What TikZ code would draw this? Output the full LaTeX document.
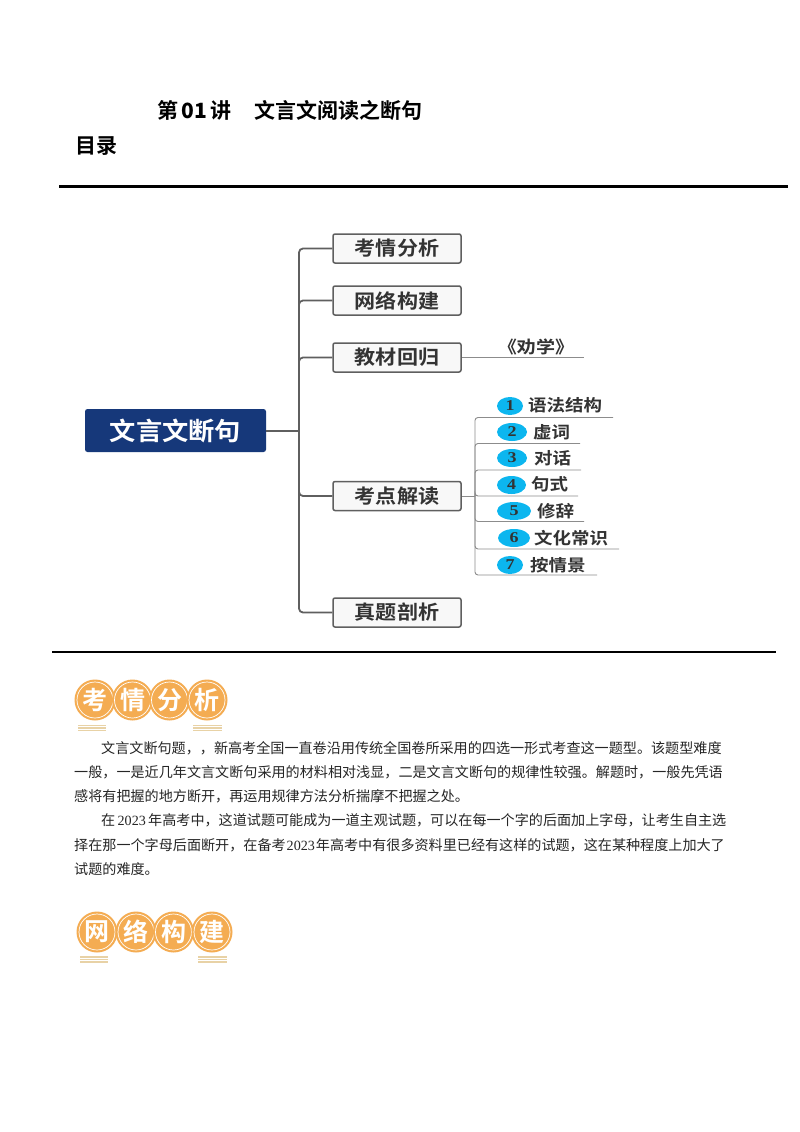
\documentclass[tikz,border=0pt]{standalone}
\usepackage{fontspec}
\setmainfont{Liberation Serif}
\newfontfamily\cjk{Noto Sans CJK SC}
\newfontfamily\cjkb{Noto Sans CJK SC Bold}
\newfontfamily\cjkbr[FakeStretch=1.05]{Noto Sans CJK SC Bold}
\newfontfamily\cjkbb[FakeStretch=1.08]{Noto Sans CJK SC Bold}
\newfontfamily\cjkbs[FakeStretch=1.12]{Noto Sans CJK SC Bold}
\newfontfamily\digitf[FakeStretch=1.2]{Liberation Serif Bold}
\newcommand{\fs}[1]{\fontsize{#1}{#1}\selectfont}
\definecolor{rootblue}{HTML}{16387A}
\definecolor{boxline}{HTML}{5F5F5F}
\definecolor{boxfill}{HTML}{F8F8F8}
\definecolor{txt}{HTML}{333333}
\definecolor{cyanball}{HTML}{0CB6EF}
\definecolor{orangeb}{HTML}{F4AC52}
\definecolor{tan}{HTML}{E8D2A6}
\tikzset{
  rootbox/.style={fill=rootblue,rounded corners=2.5,minimum width=181,minimum height=43,inner sep=0,text=white,font=\cjkbr\fs{25}},
  branchbox/.style={draw=boxline,line width=1.5,fill=boxfill,rounded corners=2,minimum width=128,minimum height=29,inner sep=0,text=txt,font=\cjkbb\fs{19.5}},
  conn/.style={draw=boxline,line width=1.8,rounded corners=4},
  thin conn/.style={draw=gray!90,line width=.9,rounded corners=3},
  ball/.style={ellipse,fill=cyanball,inner sep=0,font=\digitf\fs{15},text=txt},
  sublabel/.style={anchor=west,inner sep=0,text=txt,font=\cjkbs\fs{16.5}},
  badge/.style={circle,fill=orangeb,minimum size=41,inner sep=0,text=white,font=\cjkb\fs{25}},
  ring/.style={draw=white,line width=.7},
  bar/.style={draw=tan,line width=1.3},
  bodyline/.style={anchor=west,inner sep=0,text=black!85,font=\cjk\fs{14.1}},
  heading/.style={anchor=west,inner sep=0,text=black,font=\cjkb\fs{21}},
  rule/.style={draw=black,line width=2.2},
}
\usetikzlibrary{shapes.geometric}
\begin{document}
\begin{tikzpicture}[x=1pt,y=-1pt]
\useasboundingbox[fill=white] (0,0) rectangle (800,1132);
% headings
\node[heading] (title) at (157,110) {第\,{\bfseries 01}\,讲\hspace{23pt}文言文阅读之断句};
\node[heading] (toc) at (75,146) {目录};
\coordinate (r1a) at (59,186.5); \coordinate (r1b) at (788,186.5);
\draw[rule] (r1a) -- (r1b);
\coordinate (r2a) at (52,652); \coordinate (r2b) at (776,652);
\draw[rule] (r2a) -- (r2b);
% map
\node[rootbox] (root) at (175.5,430.5) {文言文断句};
\node[branchbox] (b1) at (397,248.5) {考情分析};
\node[branchbox] (b2) at (397,300.5) {网络构建};
\node[branchbox] (b3) at (397,357.5) {教材回归};
\node[branchbox] (b4) at (397,496) {考点解读};
\node[branchbox] (b5) at (397,612.5) {真题剖析};
\coordinate (trunk) at (299,431);
\foreach \b in {b1,b2,b3,b4,b5} \draw[conn] (trunk) |- (\b.west);
\draw[draw=boxline,line width=2.2] (root.east |- trunk) -- (trunk);
% textbook branch
\coordinate (q) at (584,357.5);
\draw[thin conn] (b3.east) -- (q);
\node[inner sep=0,text=txt,font=\cjkbs\fs{17}] (quan) at (536,347) {《劝学》};
% sub branches
\coordinate (st) at (475,496);
\draw[thin conn] (b4.east) -- (st);
\coordinate (s1) at (613,417.5);
\coordinate (s2) at (580,443.5);
\coordinate (s3) at (581,470);
\coordinate (s4) at (578,496);
\coordinate (s5) at (584,521.5);
\coordinate (s6) at (619,549);
\coordinate (s7) at (597,575);
\foreach \s in {s1,s2,s3,s4,s5,s6,s7} \draw[thin conn] (st) |- (\s);
\node[ball,minimum width=26,minimum height=18] (n1) at (510,406) {1};
\node[ball,minimum width=30,minimum height=18] (n2) at (512,432) {2};
\node[ball,minimum width=30,minimum height=18] (n3) at (512,458) {3};
\node[ball,minimum width=29,minimum height=18] (n4) at (511.5,485) {4};
\node[ball,minimum width=34,minimum height=18] (n5) at (514,511) {5};
\node[ball,minimum width=32,minimum height=18] (n6) at (514,538) {6};
\node[ball,minimum width=26,minimum height=18] (n7) at (510,565) {7};
\node[sublabel] (l1) at (528,405.5) {语法结构};
\node[sublabel] (l2) at (533,432) {虚词};
\node[sublabel] (l3) at (534,458) {对话};
\node[sublabel] (l4) at (531,484.5) {句式};
\node[sublabel] (l5) at (537,511) {修辞};
\node[sublabel] (l6) at (534,538) {文化常识};
\node[sublabel] (l7) at (530,565) {按情景};
% badge 1
\foreach \n/\x/\t in {a1/95/考,a2/132.5/情,a3/169.5/分,a4/207/析}{
  \node[badge] (\n) at (\x,700) {\t};
  \draw[ring] (\n) circle (18);
}
\foreach \y in {725.5,728,730.5}{
  \draw[bar] (78,\y) -- (106,\y);
  \draw[bar] (193,\y) -- (222,\y);
}
% body
\node[bodyline] (t1) at (101,748) {文言文断句题，，新高考全国一直卷沿用传统全国卷所采用的四选一形式考查这一题型。该题型难度};
\node[bodyline] (t2) at (74,772.5) {一般，一是近几年文言文断句采用的材料相对浅显，二是文言文断句的规律性较强。解题时，一般先凭语};
\node[bodyline] (t3) at (74,796.5) {感将有把握的地方断开，再运用规律方法分析揣摩不把握之处。};
\node[bodyline] (t4) at (101,820.5) {在\,{\rmfamily 2023}\,年高考中，这道试题可能成为一道主观试题，可以在每一个字的后面加上字母，让考生自主选};
\node[bodyline] (t5) at (74,845) {择在那一个字母后面断开，在备考\hspace{1pt}{\rmfamily 2023}\hspace{1pt}年高考中有很多资料里已经有这样的试题，这在某种程度上加大了};
\node[bodyline] (t6) at (74,869) {试题的难度。};
% badge 2
\foreach \n/\x/\t in {c1/97/网,c2/136/络,c3/173.5/构,c4/212/建}{
  \node[badge] (\n) at (\x,932) {\t};
  \draw[ring] (\n) circle (18);
}
\foreach \y in {957,959.5,962}{
  \draw[bar] (80,\y) -- (108,\y);
  \draw[bar] (198,\y) -- (227,\y);
}
\end{tikzpicture}
\end{document}
